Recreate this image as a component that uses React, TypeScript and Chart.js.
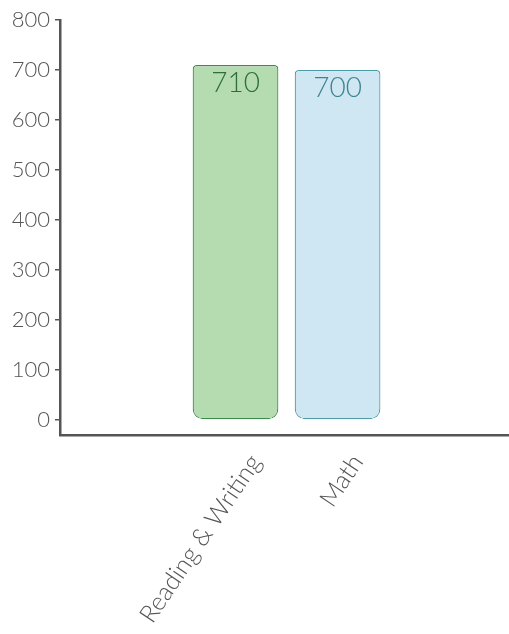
import React, { useEffect, useRef } from "react";
import { Chart, registerables } from "chart.js";

Chart.register(...registerables);

const categories = ["Reading & Writing", "Math"];
const scores = [710, 700];
const yTicks = [0, 100, 200, 300, 400, 500, 600, 700, 800];
const fillColors = ["rgba(181,220,176,1)", "rgba(207,231,243,1)"];
const borderColors = ["#3d8b4a", "#4f9aa8"];
const labelColors = ["#2f6e3c", "#3f8590"];

const FONT = "Lato, 'Open Sans', sans-serif";
const AXIS = "#555555";

export default function App() {
  const ref = useRef<HTMLCanvasElement | null>(null);

  useEffect(() => {
    document.body.style.margin = "0";
    const canvas = ref.current;
    if (!canvas) return;

    const valueLabels = {
      id: "valueLabels",
      afterDatasetsDraw(chart: any) {
        const ctx = chart.ctx;
        const meta = chart.getDatasetMeta(0);
        ctx.save();
        ctx.font = `300 28px ${FONT}`;
        ctx.textAlign = "center";
        ctx.textBaseline = "middle";
        meta.data.forEach((el: any, i: number) => {
          ctx.fillStyle = labelColors[i];
          ctx.fillText(String(scores[i]), el.x, el.y + 18);
        });
        ctx.restore();
      },
    };

    const chart = new Chart(canvas, {
      type: "bar",
      data: {
        datasets: [
          {
            data: scores.map((v, i) => ({ x: i + 1, y: v })),
            backgroundColor: fillColors,
            borderColor: borderColors,
            borderWidth: 1.2,
            borderSkipped: false,
            borderRadius: { topLeft: 4, topRight: 4, bottomLeft: 10, bottomRight: 10 },
            barPercentage: 0.84,
            categoryPercentage: 1,
          },
        ],
      },
      options: {
        animation: false,
        responsive: false,
        maintainAspectRatio: false,
        layout: { padding: { top: 20, right: 0, left: 0, bottom: 0 } },
        plugins: { legend: { display: false }, tooltip: { enabled: false } },
        scales: {
          x: {
            type: "linear",
            offset: false,
            min: -0.72,
            max: 3.68,
            afterBuildTicks(scale: any) {
              scale.ticks = categories.map((_, i) => ({ value: i + 1 }));
            },
            afterFit(scale: any) {
              scale.height = 199;
            },
            grid: { display: false, drawTicks: false },
            border: { display: true, color: AXIS, width: 2.5 },
            ticks: {
              callback: (v: any) => categories[Number(v) - 1] ?? "",
              minRotation: 56,
              maxRotation: 56,
              autoSkip: false,
              labelOffset: 20,
              padding: 14,
              color: AXIS,
              font: { family: FONT, size: 25, weight: 300 },
            },
          },
          y: {
            min: -30,
            max: 800,
            afterBuildTicks(scale: any) {
              scale.ticks = yTicks.map((v) => ({ value: v }));
            },
            afterFit(scale: any) {
              scale.width = 60;
            },
            grid: { drawOnChartArea: false, drawTicks: true, tickLength: 5, color: AXIS, lineWidth: 1.5 },
            border: { display: true, color: AXIS, width: 2.5 },
            ticks: {
              padding: 5,
              color: AXIS,
              font: { family: FONT, size: 22, weight: 300 },
            },
          },
        },
      },
      plugins: [valueLabels],
    } as any);

    return () => chart.destroy();
  }, []);

  return (
    <div style={{ width: 509, height: 634 }}>
      <canvas ref={ref} width={509} height={634} style={{ width: 509, height: 634, display: "block" }} />
    </div>
  );
}
